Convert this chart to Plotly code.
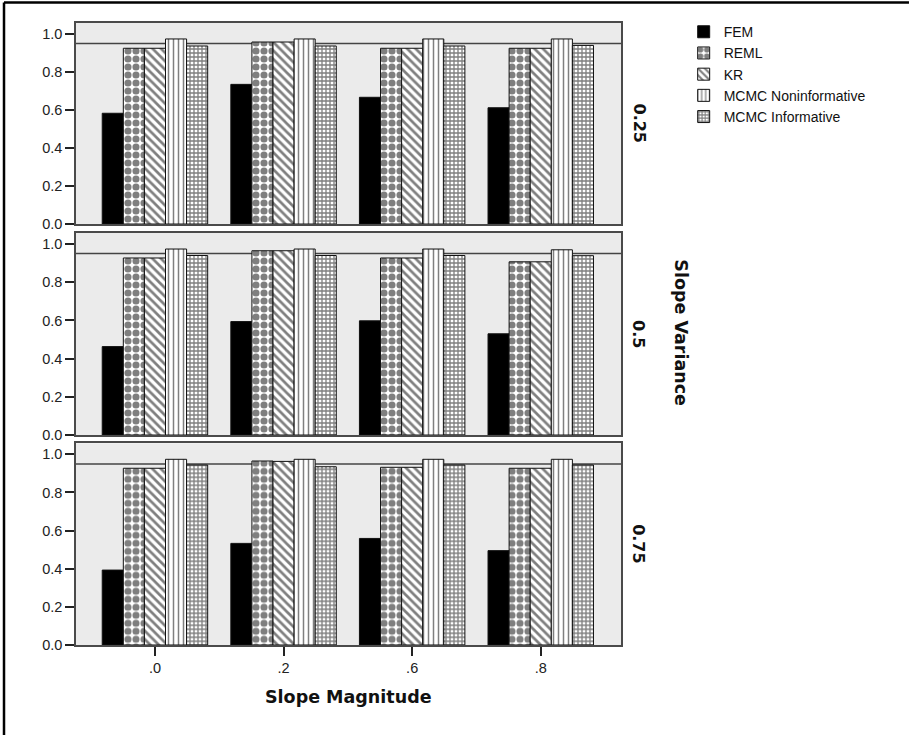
import plotly.graph_objects as go

# ---------------- data ----------------
categories = ['.0', '.2', '.6', '.8']
variance_labels = ['0.25', '0.5', '0.75']
series_names = ['FEM', 'REML', 'KR', 'MCMC Noninformative', 'MCMC Informative']
y_ticks = [0.0, 0.2, 0.4, 0.6, 0.8, 1.0]
reference_value = 0.95

# Slope variance 0.25
fem_v025 = [0.583, 0.735, 0.667, 0.612]
reml_v025 = [0.925, 0.958, 0.925, 0.925]
kr_v025 = [0.925, 0.958, 0.925, 0.925]
mcmcn_v025 = [0.974, 0.974, 0.974, 0.974]
mcmci_v025 = [0.937, 0.937, 0.937, 0.940]

# Slope variance 0.5
fem_v05 = [0.463, 0.594, 0.598, 0.530]
reml_v05 = [0.927, 0.965, 0.927, 0.907]
kr_v05 = [0.927, 0.965, 0.927, 0.907]
mcmcn_v05 = [0.974, 0.974, 0.974, 0.970]
mcmci_v05 = [0.940, 0.940, 0.940, 0.939]

# Slope variance 0.75
fem_v075 = [0.393, 0.533, 0.559, 0.495]
reml_v075 = [0.927, 0.965, 0.932, 0.927]
kr_v075 = [0.927, 0.963, 0.932, 0.927]
mcmcn_v075 = [0.974, 0.974, 0.974, 0.974]
mcmci_v075 = [0.944, 0.935, 0.944, 0.944]

panels = [
    [fem_v025, reml_v025, kr_v025, mcmcn_v025, mcmci_v025],
    [fem_v05, reml_v05, kr_v05, mcmcn_v05, mcmci_v05],
    [fem_v075, reml_v075, kr_v075, mcmcn_v075, mcmci_v075],
]

# ---------------- styles ----------------
patterns = [
    None,
    dict(shape='.', fgcolor='black', bgcolor='white', size=8, solidity=0.62),
    dict(shape='\\', fgcolor='black', bgcolor='white', size=6, solidity=0.45),
    dict(shape='|', fgcolor='black', bgcolor='white', size=5, solidity=0.3),
    dict(shape='+', fgcolor='black', bgcolor='white', size=4, solidity=0.55),
]
fills = ['black', 'white', 'white', 'white', 'white']

TICK_FONT = dict(family='Liberation Sans, Arial', size=14.5, color='#222')
BOLD_FONT = 'DejaVu Sans'
FRAME = '#4a4a4a'
BG = '#ebebeb'

fig = go.Figure()

for p, vals in enumerate(panels):
    suffix = '' if p == 0 else str(p + 1)
    for s, name in enumerate(series_names):
        marker = dict(color=fills[s], line=dict(color='#111', width=1))
        if patterns[s] is not None:
            marker['pattern'] = patterns[s]
        fig.add_trace(go.Bar(
            x=categories, y=vals[s], name=name,
            legendgroup=name, showlegend=(p == 0),
            marker=marker,
            xaxis='x' + suffix, yaxis='y' + suffix,
        ))

# panel domains (pixel derived)
domains = [[0.6768, 1.0], [0.3376, 0.6624], [0.0, 0.3243]]

layout_axes = {}
for p in range(3):
    suffix = '' if p == 0 else str(p + 1)
    last = (p == 2)
    layout_axes['xaxis' + suffix] = dict(
        type='category', categoryorder='array', categoryarray=categories,
        range=[-0.614, 3.624], anchor='y' + suffix, domain=[0, 1],
        showline=True, mirror=True, linecolor=FRAME, linewidth=1.5,
        showgrid=False, zeroline=False,
        ticks='outside' if last else '', ticklen=9, tickwidth=1.5, tickcolor='#222',
        showticklabels=last, tickfont=TICK_FONT,
    )
    layout_axes['yaxis' + suffix] = dict(
        domain=domains[p], anchor='x' + suffix, range=[0, 1.058],
        tickvals=y_ticks, tickformat='.1f',
        showline=True, mirror=True, linecolor=FRAME, linewidth=1.5,
        showgrid=False, zeroline=False,
        ticks='outside', ticklen=9, tickwidth=1.5, tickcolor='#222',
        tickfont=TICK_FONT,
    )

shapes = []
for p in range(3):
    suffix = '' if p == 0 else str(p + 1)
    shapes.append(dict(type='line', xref='x' + suffix + ' domain', yref='y' + suffix,
                       x0=0, x1=1, y0=reference_value, y1=reference_value,
                       line=dict(color='#444', width=1.5), layer='below'))

# outer frame (top and left edges)
shapes.append(dict(type='line', xref='paper', yref='paper', x0=-0.1321, x1=1.5284,
                   y0=1.0330, y1=1.0330, line=dict(color='black', width=2.5)))
shapes.append(dict(type='line', xref='paper', yref='paper', x0=-0.1321, x1=-0.1321,
                   y0=1.0330, y1=-0.1447, line=dict(color='black', width=2.5)))

annotations = []
for p, lab in enumerate(variance_labels):
    d = domains[p]
    annotations.append(dict(text='<b>' + lab + '</b>', xref='paper', yref='paper',
                            x=1.033, y=(d[0] + d[1]) / 2, textangle=90,
                            showarrow=False, xanchor='center', yanchor='middle',
                            font=dict(family=BOLD_FONT, size=16, color='#111')))
annotations.append(dict(text='<b>Slope Variance</b>', xref='paper', yref='paper',
                        x=1.1095, y=0.5016, textangle=90, showarrow=False,
                        xanchor='center', yanchor='middle',
                        font=dict(family=BOLD_FONT, size=17.5, color='#111')))
annotations.append(dict(text='<b>Slope Magnitude</b>', xref='paper', yref='paper',
                        x=0.5, y=-0.0836, showarrow=False,
                        xanchor='center', yanchor='middle',
                        font=dict(family=BOLD_FONT, size=17.5, color='#111')))

fig.update_layout(
    width=909, height=735,
    margin=dict(l=76, r=288, t=23, b=90),
    paper_bgcolor='white', plot_bgcolor=BG,
    barmode='group', bargap=0.18, bargroupgap=0,
    showlegend=True,
    legend=dict(x=1.115, y=1.011, xanchor='left', yanchor='top',
                font=dict(family='Liberation Sans, Arial', size=14, color='#111'),
                bgcolor='rgba(0,0,0,0)', tracegroupgap=0, itemwidth=30),
    shapes=shapes, annotations=annotations,
    **layout_axes,
)

fig.write_html('out.html')
